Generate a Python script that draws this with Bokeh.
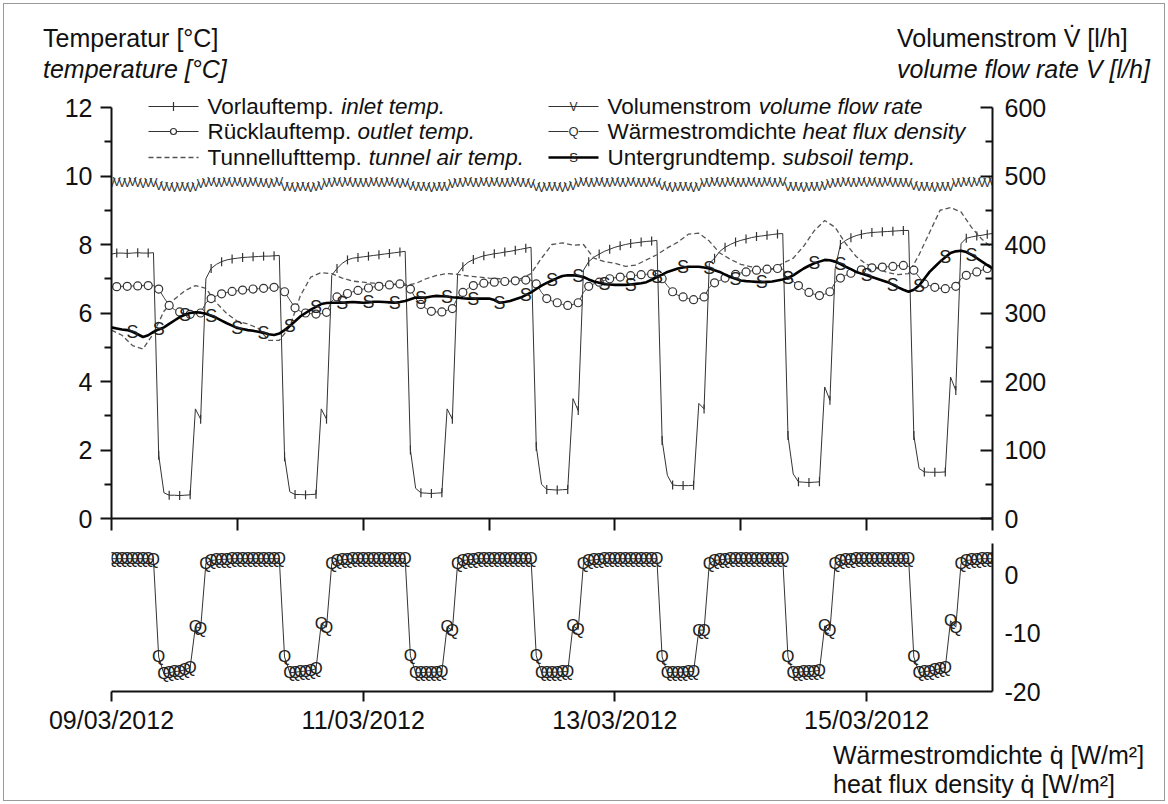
import numpy as np
import pandas as pd
from bokeh.plotting import figure
from bokeh.models import Range1d, LinearAxis, FixedTicker, Label, DatetimeTickFormatter, ColumnDataSource, Div
from bokeh.layouts import column
from bokeh.core.properties import value
from bokeh.embed import file_html
from bokeh.resources import INLINE

FONT = "Liberation Sans"
START = pd.Timestamp("2012-03-09 00:00")
HOURS = list(range(169))          # hourly samples, 09/03 00:00 .. 16/03 00:00
HOURS_2H = list(range(0, 169, 2))  # two-hourly samples (tunnel air)

# Vorlauftemp. / inlet temp. [°C]
INLET = [
    7.72, 7.75, 7.75, 7.74, 7.75, 7.76, 7.75, 7.75, 7.76, 1.85, 0.75, 0.68, 0.68, 0.67, 0.68, 0.69, 3.2, 2.9, 7.0, 7.3, 7.42, 7.5, 7.55, 7.58,
    7.6, 7.62, 7.63, 7.64, 7.65, 7.66, 7.66, 7.67, 7.68, 1.8, 0.78, 0.7, 0.7, 0.69, 0.7, 0.71, 3.2, 2.9, 7.1, 7.3, 7.45, 7.55, 7.6, 7.62,
    7.64, 7.66, 7.68, 7.7, 7.72, 7.74, 7.76, 7.78, 7.8, 2.0, 0.88, 0.75, 0.74, 0.73, 0.74, 0.75, 3.2, 2.9, 7.15, 7.35, 7.48, 7.56, 7.62, 7.67,
    7.7, 7.73, 7.75, 7.78, 7.8, 7.83, 7.86, 7.89, 7.92, 2.1, 1.0, 0.85, 0.84, 0.83, 0.84, 0.85, 3.5, 3.15, 7.25, 7.5, 7.63, 7.72, 7.8, 7.86,
    7.92, 7.96, 8.0, 8.03, 8.05, 8.07, 8.09, 8.1, 8.12, 2.28, 1.26, 0.98, 0.96, 0.96, 0.96, 0.97, 3.36, 3.2, 7.45, 7.6, 7.8, 7.92, 8.0, 8.07,
    8.12, 8.16, 8.2, 8.23, 8.25, 8.27, 8.29, 8.31, 8.32, 2.42, 1.3, 1.07, 1.06, 1.05, 1.06, 1.07, 3.84, 3.45, 7.3, 8.0, 8.12, 8.2, 8.26, 8.3,
    8.33, 8.35, 8.36, 8.37, 8.38, 8.39, 8.4, 8.41, 8.41, 2.42, 1.46, 1.36, 1.35, 1.35, 1.35, 1.36, 4.13, 3.74, 8.03, 8.18, 8.22, 8.25, 8.27, 8.3, 8.32,
]

# Rücklauftemp. / outlet temp. [°C]
OUTLET = [
    6.76, 6.77, 6.78, 6.78, 6.79, 6.79, 6.8, 6.8, 6.8, 6.7, 6.45, 6.22, 6.1, 6.03, 5.98, 5.96, 5.97, 6.0, 6.3, 6.42, 6.5, 6.56, 6.6, 6.63,
    6.65, 6.67, 6.68, 6.7, 6.71, 6.72, 6.73, 6.75, 6.76, 6.62, 6.38, 6.15, 6.05, 6.0, 5.98, 5.97, 5.98, 6.02, 6.35, 6.47, 6.52, 6.57, 6.62, 6.66,
    6.7, 6.73, 6.76, 6.78, 6.8, 6.82, 6.83, 6.85, 6.85, 6.7, 6.42, 6.25, 6.13, 6.05, 6.03, 6.03, 6.08, 6.13, 6.45, 6.6, 6.72, 6.8, 6.84, 6.87,
    6.88, 6.9, 6.91, 6.92, 6.93, 6.94, 6.95, 6.96, 6.96, 6.85, 6.6, 6.42, 6.35, 6.3, 6.25, 6.22, 6.25, 6.3, 6.6, 6.78, 6.85, 6.9, 6.95, 7.0,
    7.03, 7.05, 7.07, 7.09, 7.1, 7.12, 7.13, 7.14, 7.15, 7.0, 6.8, 6.62, 6.52, 6.47, 6.42, 6.39, 6.42, 6.47, 6.75, 6.88, 6.95, 7.02, 7.08, 7.13,
    7.17, 7.2, 7.23, 7.25, 7.27, 7.28, 7.29, 7.3, 7.28, 7.1, 6.92, 6.8, 6.68, 6.6, 6.55, 6.51, 6.55, 6.62, 6.9, 7.02, 7.1, 7.16, 7.22, 7.26,
    7.3, 7.32, 7.33, 7.34, 7.35, 7.36, 7.38, 7.39, 7.36, 7.25, 7.05, 6.85, 6.8, 6.75, 6.72, 6.71, 6.74, 6.78, 7.0, 7.1, 7.15, 7.2, 7.25, 7.3, 7.34,
]

# Tunnellufttemp. / tunnel air temp. [°C], every 2 h
TUNNEL = [
    5.5, 5.35, 5.05, 4.95, 5.4, 6.05, 6.4, 6.65, 6.8, 6.72,
    6.3, 5.98, 5.76, 5.68, 5.55, 5.2, 5.2, 5.6, 6.5, 7.05,
    7.18, 7.15, 7.02, 6.93, 6.9, 6.87, 6.86, 6.84, 6.81, 6.86,
    7.0, 7.1, 7.15, 7.13, 7.08, 7.05, 7.02, 7.0, 6.96, 7.0,
    7.15, 7.6, 8.0, 8.05, 7.98, 8.0, 7.6, 7.5, 7.45, 7.36,
    7.4, 7.55, 7.7, 7.9, 8.07, 8.3, 8.33, 8.1, 7.75, 7.57,
    7.42, 7.35, 7.3, 7.28, 7.45, 7.6, 7.95, 8.4, 8.7, 8.5,
    8.03, 7.65, 7.42, 7.3, 7.18, 7.12, 7.15, 7.7, 8.35, 9.0,
    9.08, 8.95, 8.5, 8.15, 7.9,
]

# Untergrundtemp. / subsoil temp. [°C]
SUBSOIL = [
    5.58, 5.55, 5.52, 5.5, 5.45, 5.38, 5.3, 5.35, 5.45, 5.52, 5.58, 5.68, 5.78, 5.88, 5.95, 6.0, 6.02, 6.01, 5.98, 5.92, 5.86, 5.78, 5.7, 5.63,
    5.56, 5.53, 5.5, 5.48, 5.45, 5.42, 5.38, 5.36, 5.4, 5.5, 5.62, 5.76, 5.9, 6.0, 6.1, 6.18, 6.26, 6.29, 6.3, 6.3, 6.3, 6.31, 6.32, 6.31,
    6.3, 6.31, 6.33, 6.33, 6.32, 6.31, 6.3, 6.32, 6.35, 6.4, 6.45, 6.45, 6.45, 6.48, 6.5, 6.49, 6.48, 6.46, 6.45, 6.43, 6.42, 6.42, 6.42, 6.42,
    6.42, 6.38, 6.3, 6.32, 6.35, 6.4, 6.45, 6.52, 6.6, 6.7, 6.8, 6.88, 6.95, 7.02, 7.08, 7.1, 7.1, 7.08, 7.05, 6.98, 6.92, 6.88, 6.84, 6.83,
    6.82, 6.82, 6.82, 6.83, 6.85, 6.87, 6.9, 6.97, 7.05, 7.12, 7.2, 7.25, 7.3, 7.33, 7.35, 7.35, 7.35, 7.33, 7.3, 7.25, 7.2, 7.12, 7.05, 7.0,
    6.95, 6.93, 6.92, 6.91, 6.9, 6.91, 6.92, 6.95, 6.98, 7.03, 7.1, 7.2, 7.3, 7.38, 7.45, 7.5, 7.55, 7.54, 7.5, 7.43, 7.35, 7.28, 7.2, 7.15,
    7.1, 7.05, 7.0, 6.95, 6.9, 6.83, 6.75, 6.68, 6.62, 6.68, 6.8, 7.0, 7.2, 7.35, 7.5, 7.63, 7.75, 7.8, 7.82, 7.78, 7.7, 7.6, 7.5, 7.4, 7.3,
]

# Volumenstrom / volume flow rate [l/h]
VOLUME = [
    490, 491, 490, 490, 491, 490, 489, 490, 490, 485, 484, 484, 483, 484, 484, 483, 484, 489, 490, 491, 490, 490, 491, 490,
    491, 490, 490, 491, 490, 490, 489, 490, 491, 484, 484, 483, 484, 484, 483, 484, 485, 490, 490, 491, 490, 491, 490, 490,
    490, 490, 491, 490, 490, 491, 490, 489, 490, 485, 484, 484, 484, 483, 484, 484, 484, 489, 490, 490, 491, 490, 490, 491,
    490, 491, 490, 490, 490, 491, 490, 490, 489, 484, 483, 484, 484, 484, 483, 484, 485, 490, 491, 490, 490, 491, 490, 490,
    491, 490, 490, 491, 490, 490, 490, 491, 490, 485, 484, 483, 484, 484, 484, 483, 484, 490, 490, 491, 490, 490, 491, 490,
    490, 490, 491, 490, 490, 491, 490, 490, 491, 484, 484, 484, 483, 484, 484, 484, 485, 489, 490, 490, 491, 490, 490, 491,
    490, 491, 490, 490, 491, 490, 490, 490, 490, 485, 484, 484, 484, 483, 484, 484, 484, 490, 490, 491, 490, 491, 490, 490, 491,
]

# Wärmestromdichte / heat flux density [W/m²]
HEAT_FLUX = [
    2.7, 2.7, 2.7, 2.7, 2.7, 2.7, 2.7, 2.7, 2.6, -14.1, -17.0, -16.8, -16.6, -16.5, -16.3, -15.9, -8.9, -9.2, 1.9, 2.4, 2.5, 2.6, 2.6, 2.7,
    2.7, 2.7, 2.7, 2.7, 2.7, 2.7, 2.7, 2.7, 2.7, -14.1, -16.8, -16.7, -16.6, -16.5, -16.4, -16.1, -8.4, -9.0, 1.9, 2.4, 2.5, 2.6, 2.7, 2.7,
    2.7, 2.7, 2.7, 2.7, 2.7, 2.7, 2.7, 2.7, 2.7, -13.9, -16.8, -16.8, -16.7, -16.7, -16.7, -16.6, -8.9, -9.6, 1.9, 2.4, 2.5, 2.6, 2.7, 2.7,
    2.7, 2.7, 2.7, 2.7, 2.7, 2.7, 2.7, 2.7, 2.7, -13.9, -16.7, -16.7, -16.7, -16.7, -16.6, -16.6, -8.8, -9.4, 1.9, 2.4, 2.5, 2.6, 2.7, 2.7,
    2.7, 2.7, 2.7, 2.7, 2.7, 2.7, 2.7, 2.7, 2.7, -14.1, -16.8, -16.7, -16.7, -16.7, -16.6, -16.6, -9.5, -9.5, 1.9, 2.4, 2.5, 2.6, 2.7, 2.7,
    2.7, 2.7, 2.7, 2.7, 2.7, 2.7, 2.7, 2.7, 2.7, -14.1, -16.8, -16.7, -16.6, -16.6, -16.5, -16.4, -8.8, -9.6, 1.9, 2.4, 2.5, 2.6, 2.7, 2.7,
    2.7, 2.7, 2.7, 2.7, 2.7, 2.7, 2.7, 2.7, 2.7, -14.1, -16.8, -16.6, -16.5, -16.3, -16.1, -15.9, -7.9, -9.0, 1.9, 2.4, 2.5, 2.6, 2.7, 2.7, 2.7,
]

INLET_MARK_HOURS = list(range(1, 169, 2))
OUTLET_MARK_HOURS = list(range(1, 169, 2))
SUBSOIL_MARK_HOURS = list(range(4, 169, 5))
TEMP_TICKS = [0, 2, 4, 6, 8, 10, 12]
TEMP_MINOR = [1, 3, 5, 7, 9, 11]
VOL_TICKS = [0, 100, 200, 300, 400, 500, 600]
VOL_MINOR = [50, 150, 250, 350, 450, 550]
FLUX_TICKS = [-20, -10, 0]
FLUX_LABELS = ["-20", "-10", "0"]
DAY_TICKS = [0, 1, 2, 3, 4, 5, 6, 7]
DATE_TICKS = [0, 2, 4, 6]

LEGEND = [
    ("Vorlauftemp. ", "inlet temp."),
    ("Rücklauftemp. ", "outlet temp."),
    ("Tunnellufttemp. ", "tunnel air temp."),
    ("Volumenstrom ", "volume flow rate"),
    ("Wärmestromdichte ", "heat flux density"),
    ("Untergrundtemp. ", "subsoil temp."),
]
TITLES_TOP = [  # (left px, baseline px, text, italic)
    (43, 47, "Temperatur [°C]", False),
    (43, 78, "temperature [°C]", True),
    (897, 47, "Volumenstrom V\u0307 [l/h]", False),
    (897, 78, "volume flow rate V [l/h]", True),
]
TITLES_BOTTOM = [
    (833, 764.6, "Wärmestromdichte q\u0307 [W/m²]", False),
    (833, 793, "heat flux density q\u0307 [W/m²]", False),
]

# ---------------------------------------------------------------- layout helpers
W = 1164
HOUR = 3600000.0
DAY = 24 * HOUR
MS0 = START.value / 1e6
FRAME_L, FRAME_R = 111, 992        # window px of the plot frames
FRAME_W = FRAME_R - FRAME_L
TOP_Y0 = 90                        # top of the upper plot's frame
T0_Y, T12_Y = 518, 107             # window px of 0 °C and 12 °C
PX_PER_DEG = (T0_Y - T12_Y) / 12.0
Q_TOP, Q_BOT = 543, 691            # heat-flux frame
TITLE_H = TOP_Y0
TOP_H = 453
BOT_H = 198
LAST_H = 62
LEG_SIZE = "22.5px"
LEG_PX = 22.5


def t(h):
    return MS0 + h * HOUR


def X(sx):   # window px -> data x
    return MS0 + (sx - FRAME_L) / FRAME_W * 7 * DAY


def PX(px):
    return px / FRAME_W * 7 * DAY


def YT(sy):  # window px -> temperature
    return (T0_Y - sy) / PX_PER_DEG


AW = {' ': 278, '.': 278, 'V': 667, 'o': 556, 'r': 333, 'l': 222, 'a': 556, 'u': 556, 'f': 278,
      't': 278, 'e': 556, 'm': 833, 'p': 556, 'R': 722, 'ü': 556, 'c': 500, 'k': 500, 'T': 611,
      'n': 556, 'W': 944, 'ä': 556, 's': 500, 'd': 556, 'i': 222, 'h': 556, 'U': 722, 'g': 556}


def tw(s, size):
    return sum(AW.get(ch, 556) for ch in s) * size / 1000.0


def style_axis(ax):
    ax.axis_line_width = 2
    ax.axis_line_color = "#111111"
    ax.major_tick_line_width = 2
    ax.minor_tick_line_width = 2
    ax.major_tick_line_color = "#111111"
    ax.minor_tick_line_color = "#111111"
    ax.major_label_text_font = FONT
    ax.major_label_text_font_size = "25px"
    ax.major_label_text_color = "#111111"


def add_label(fig, x, y, text, italic=False, size="25px"):
    fig.add_layout(Label(x=x, y=y, text=text, text_font=FONT, text_font_size=size,
                         text_font_style="italic" if italic else "normal",
                         text_align="left", text_baseline="middle", text_color="#111111"))


def clean(fig):
    fig.outline_line_color = None
    fig.grid.visible = False
    fig.background_fill_color = None
    fig.border_fill_color = None


def text_strip(items, y0, h):
    spans = []
    for x, base, txt, italic in items:
        top = base - y0 - 21.2   # baseline sits 21.2 px below the top of a 25 px line box
        style = ("position:absolute;display:block;left:%dpx;top:%.1fpx;height:23px;overflow:visible;"
                 "white-space:nowrap;margin:0;padding:0;"
                 "font-family:'Liberation Sans';font-size:25px;line-height:25px;color:#111111;%s"
                 % (x, top, "font-style:italic;" if italic else ""))
        spans.append('<div style="%s">%s</div>' % (style, txt))
    html = ('<div style="position:relative;width:%dpx;height:%dpx;margin:0;padding:0;">%s</div>'
            % (W, h, "".join(spans)))
    return Div(text=html, width=W, height=h, margin=0)


src = ColumnDataSource(dict(t=[t(h) for h in HOURS], inlet=INLET, outlet=OUTLET,
                            subsoil=SUBSOIL, vol=VOLUME, q=HEAT_FLUX))
src2 = ColumnDataSource(dict(t=[t(h) for h in HOURS_2H], tunnel=TUNNEL))
src_in_m = ColumnDataSource(dict(t=[t(h) for h in INLET_MARK_HOURS], y=[INLET[h] for h in INLET_MARK_HOURS]))
src_out_m = ColumnDataSource(dict(t=[t(h) for h in OUTLET_MARK_HOURS], y=[OUTLET[h] for h in OUTLET_MARK_HOURS]))
src_sub_m = ColumnDataSource(dict(t=[t(h) for h in SUBSOIL_MARK_HOURS], y=[SUBSOIL[h] for h in SUBSOIL_MARK_HOURS]))

# ---------------------------------------------------------------- upper plot
xr = Range1d(MS0, MS0 + 7 * DAY)
y_top = YT(TOP_Y0)
p = figure(width=W, height=TOP_H, x_axis_type="datetime", x_range=xr, y_range=Range1d(0, y_top),
           output_backend="svg", toolbar_location=None,
           min_border_left=FRAME_L, min_border_right=W - FRAME_R, min_border_top=0,
           min_border_bottom=TOP_H - (T0_Y - TOP_Y0))
p.extra_y_ranges = {"vol": Range1d(0, y_top * 50)}
clean(p)

xa = p.xaxis[0]
style_axis(xa)
xa.ticker = FixedTicker(ticks=[MS0 + d * DAY for d in DAY_TICKS], minor_ticks=[])
xa.major_tick_out = 12
xa.major_tick_in = 0
xa.major_label_text_font_size = "10px"
xa.major_label_text_color = None
xa.major_label_standoff = 0

ya = p.yaxis[0]
style_axis(ya)
ya.bounds = (0, 12)
ya.ticker = FixedTicker(ticks=TEMP_TICKS, minor_ticks=TEMP_MINOR)
ya.major_tick_out = 11
ya.major_tick_in = 0
ya.minor_tick_out = 7
ya.minor_tick_in = 0
ya.major_label_standoff = 8

va = LinearAxis(y_range_name="vol", ticker=FixedTicker(ticks=VOL_TICKS, minor_ticks=VOL_MINOR))
style_axis(va)
va.bounds = (0, 600)
va.major_tick_in = 12
va.major_tick_out = 0
va.minor_tick_in = 7
va.minor_tick_out = 0
va.major_label_standoff = 12
p.add_layout(va, "right")

# series
p.text(x="t", y="vol", text=value("V"), source=src, y_range_name="vol",
       text_font=value(FONT), text_font_size=value("12px"),
       text_align="center", text_baseline="middle", text_color="#333333")
p.line("t", "inlet", source=src, line_color="#333333", line_width=1)
p.scatter("t", "y", source=src_in_m, marker="dash", angle=np.pi / 2, size=9,
          line_color="#333333", line_width=1.2)
p.line("t", "tunnel", source=src2, line_color="#555555", line_width=1.3, line_dash="5 3")
p.line("t", "outlet", source=src, line_color="#444444", line_width=1)
p.scatter("t", "y", source=src_out_m, marker="circle", size=8, fill_color="white",
          line_color="#333333", line_width=1.2)
p.line("t", "subsoil", source=src, line_color="#000000", line_width=2.6)
p.text(x="t", y="y", text=value("S"), source=src_sub_m,
       text_font=value(FONT), text_font_size=value("18px"),
       text_align="center", text_baseline="middle", text_color="#222222")

# legend
ROW_Y = [106, 131, 157]
COL_X = [148, 548]
TXT_X = [207, 607]
for i, (up, it) in enumerate(LEGEND):
    col, row = divmod(i, 3)
    y = YT(ROW_Y[row])
    add_label(p, X(TXT_X[col]), y, up, size=LEG_SIZE)
    add_label(p, X(TXT_X[col]) + PX(tw(up, LEG_PX)), y, it, italic=True, size=LEG_SIZE)

lx0, lx1, lxm = X(COL_X[0]), X(COL_X[0] + 50), X(COL_X[0] + 25)
rx0, rx1, rxm = X(COL_X[1]), X(COL_X[1] + 50), X(COL_X[1] + 25)
p.line([lx0, lx1], [YT(ROW_Y[0])] * 2, line_color="#333333", line_width=1)
p.scatter([lxm], [YT(ROW_Y[0])], marker="dash", angle=np.pi / 2, size=9, line_color="#333333", line_width=1.2)
p.line([lx0, lx1], [YT(ROW_Y[1])] * 2, line_color="#333333", line_width=1)
p.scatter([lxm], [YT(ROW_Y[1])], marker="circle", size=6, fill_color="white", line_color="#333333", line_width=1.2)
p.line([lx0, lx1], [YT(ROW_Y[2])] * 2, line_color="#555555", line_width=1.3, line_dash="5 3")
p.line([rx0, rx1], [YT(ROW_Y[0])] * 2, line_color="#333333", line_width=1)
p.text([rxm], [YT(ROW_Y[0])], text=value("V"), text_font=value(FONT), text_font_size=value("12px"),
       text_align="center", text_baseline="middle", text_color="#333333")
p.line([rx0, rx1], [YT(ROW_Y[1])] * 2, line_color="#333333", line_width=1)
p.text([rxm], [YT(ROW_Y[1])], text=value("Q"), text_font=value(FONT), text_font_size=value("13px"),
       text_align="center", text_baseline="middle", text_color="#333333", background_fill_color="white")
p.line([rx0, rx1], [YT(ROW_Y[2])] * 2, line_color="#000000", line_width=2.6)
p.text([rxm], [YT(ROW_Y[2])], text=value("S"), text_font=value(FONT), text_font_size=value("13px"),
       text_align="center", text_baseline="middle", text_color="#222222")

# ---------------------------------------------------------------- lower plot
q = figure(width=W, height=BOT_H, x_axis_type="datetime", x_range=xr, y_range=Range1d(-20, 5.3),
           y_axis_location="right", output_backend="svg", toolbar_location=None,
           min_border_left=FRAME_L, min_border_right=W - FRAME_R, min_border_top=0,
           min_border_bottom=BOT_H - (Q_BOT - Q_TOP))
clean(q)

qx = q.xaxis[0]
style_axis(qx)
qx.ticker = FixedTicker(ticks=[MS0 + d * DAY for d in DATE_TICKS], minor_ticks=[])
qx.major_tick_out = 10
qx.major_tick_in = 0
qx.major_label_standoff = 4
fmt = "%d/%m/%Y"
qx.formatter = DatetimeTickFormatter(milliseconds=fmt, seconds=fmt, minsec=fmt, minutes=fmt,
                                     hourmin=fmt, hours=fmt, days=fmt, months=fmt, years=fmt)

qy = q.yaxis[0]
style_axis(qy)
qy.ticker = FixedTicker(ticks=FLUX_TICKS, minor_ticks=[])
qy.major_label_overrides = dict(zip(FLUX_TICKS, FLUX_LABELS))
qy.major_tick_in = 0
qy.major_tick_out = 0
qy.major_label_standoff = 12

q.line("t", "q", source=src, line_color="#333333", line_width=1)
q.text(x="t", y="q", text=value("Q"), source=src,
       text_font=value(FONT), text_font_size=value("17px"),
       text_align="center", text_baseline="middle", text_color="#222222")

# ---------------------------------------------------------------- title strips (outside the frames)
top_titles = text_strip(TITLES_TOP, 0, TITLE_H)
bottom_titles = text_strip(TITLES_BOTTOM, TITLE_H + TOP_H + BOT_H, LAST_H)

layout = column(top_titles, p, q, bottom_titles, spacing=0, width=1168, height=804,
                styles={"outline": "1px solid #9a9a9a", "outline-offset": "-4px",
                        "background-color": "white"})
open("out.html", "w").write(file_html(layout, INLINE))
